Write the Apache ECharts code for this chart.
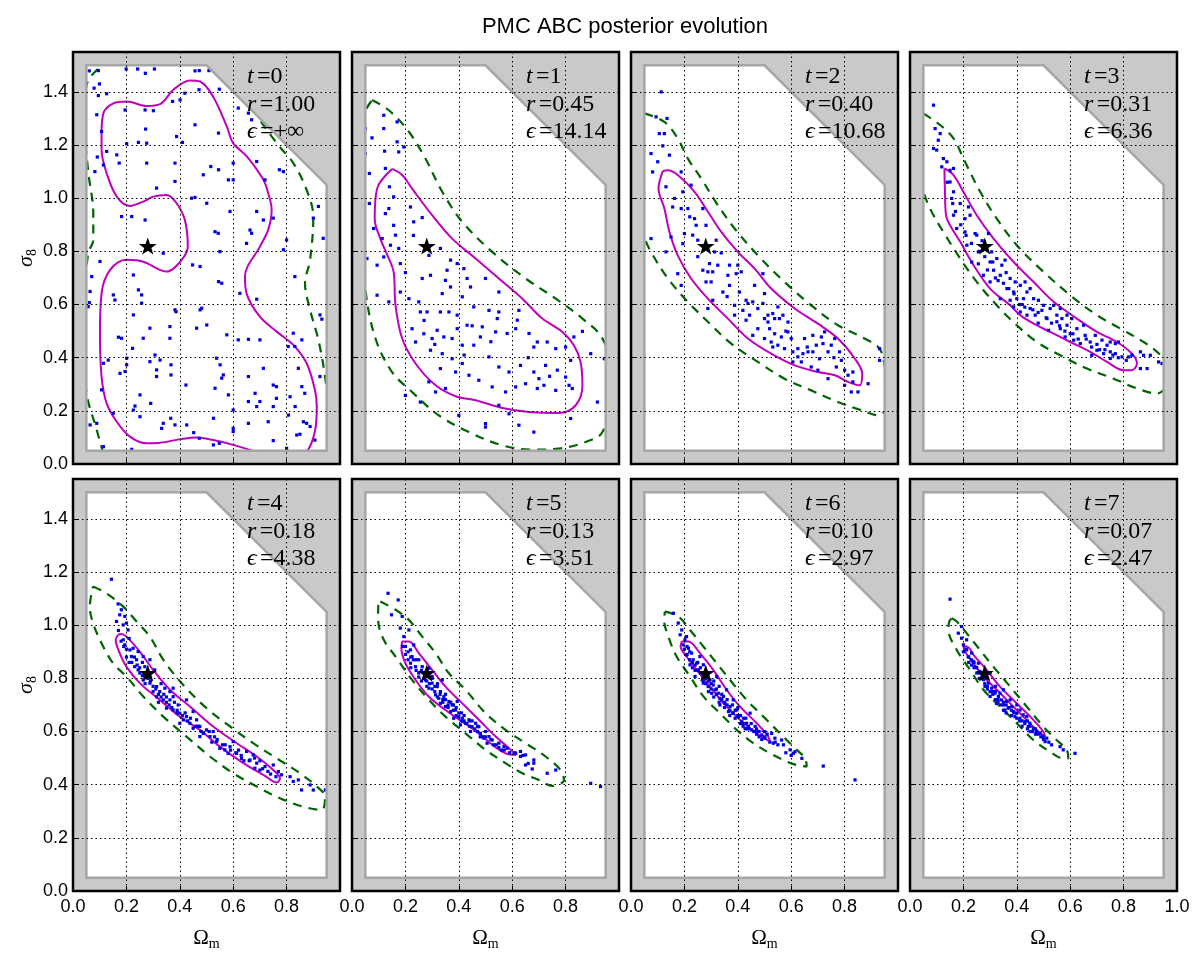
<!DOCTYPE html>
<html>
<head>
<meta charset="utf-8">
<script src="https://cdn.jsdelivr.net/npm/echarts@6/dist/echarts.min.js"></script>
<style>
  html, body { margin: 0; padding: 0; background: #fff; }
  #chart { width: 1200px; height: 962px; }
</style>
</head>
<body>
<div id="chart"></div>
<script>
// axis ranges and ticks
const xRange = [0, 1.0];
const yRange = [0, 1.55];
const tickStep = [0.2, 0.2];

// prior support (white area), gray outside
const priorBox = [[0.05, 0.05], [0.95, 0.05], [0.95, 1.05], [0.5, 1.5], [0.05, 1.5]];
const trueParams = [[0.28, 0.82]];

// per-iteration labels
const tLabels = ['0', '1', '2', '3', '4', '5', '6', '7'];
const rLabels = ['1.00', '0.45', '0.40', '0.31', '0.18', '0.13', '0.10', '0.07'];
const epsLabels = ['+\u221e', '14.14', '10.68', '6.36', '4.38', '3.51', '2.97', '2.47'];

// ---- t = 0 ----
const dots0 = [[0.061,1.479],[0.095,1.48],[0.199,1.486],[0.242,1.486],[0.271,1.47],[0.305,1.486],[0.457,1.479],[0.473,1.48],[0.509,1.48],
  [0.079,1.414],[0.099,1.43],[0.126,1.393],[0.095,1.386],[0.089,1.314],[0.195,1.332],[0.27,1.332],[0.301,1.329],[0.373,1.364],[0.401,1.37],
  [0.419,1.395],[0.472,1.408],[0.548,1.41],[0.563,1.46],[0.619,1.339],[0.657,1.32],[0.669,1.295],[0.107,1.251],[0.272,1.26],[0.276,1.207],
  [0.201,1.205],[0.245,1.21],[0.388,1.232],[0.41,1.21],[0.457,1.276],[0.545,1.245],[0.126,1.176],[0.091,1.155],[0.164,1.163],[0.173,1.132],
  [0.114,1.125],[0.082,1.1],[0.276,1.132],[0.382,1.132],[0.488,1.088],[0.516,1.119],[0.545,1.107],[0.6,1.132],[0.688,1.138],[0.773,1.107],
  [0.788,1.1],[0.382,1.063],[0.313,1.038],[0.444,1.0],[0.457,1.003],[0.501,0.981],[0.582,1.069],[0.6,1.069],[0.719,1.069],[0.588,0.95],
  [0.688,0.95],[0.919,0.969],[0.182,0.931],[0.22,0.931],[0.27,0.918],[0.9,0.925],[0.532,0.874],[0.544,0.868],[0.663,0.88],[0.669,0.868],
  [0.713,0.918],[0.75,0.925],[0.8,0.843],[0.937,0.849],[0.65,0.83],
  [0.101,0.762],[0.07,0.705],[0.064,0.649],[0.061,0.607],[0.057,0.592],[0.151,0.636],[0.157,0.617],[0.226,0.711],[0.245,0.655],[0.257,0.636],
  [0.257,0.605],[0.338,0.793],[0.448,0.749],[0.476,0.743],[0.55,0.799],[0.557,0.68],[0.545,0.686],[0.625,0.642],[0.688,0.62],[0.788,0.806],
  [0.831,0.705],[0.825,0.492],[0.806,0.442],[0.831,0.442],[0.857,0.467],[0.925,0.561],[0.932,0.545],[0.7,0.467],[0.657,0.469],[0.619,0.467],
  [0.576,0.486],[0.463,0.511],[0.501,0.523],[0.476,0.58],[0.482,0.586],[0.382,0.58],[0.386,0.573],[0.363,0.517],[0.363,0.473],[0.326,0.391],
  [0.313,0.354],[0.288,0.511],[0.226,0.561],[0.223,0.435],[0.263,0.473],[0.17,0.477],[0.182,0.473],[0.132,0.391],[0.114,0.379],[0.176,0.341],
  [0.195,0.348],[0.201,0.398],[0.201,0.373],[0.307,0.41],[0.313,0.329],[0.288,0.385],[0.367,0.373],[0.367,0.335],[0.423,0.297],[0.251,0.26],
  [0.291,0.228],[0.232,0.218],[0.226,0.203],[0.151,0.191],[0.251,0.178],[0.338,0.153],[0.382,0.147],[0.366,0.172],[0.332,0.134],[0.426,0.147],
  [0.452,0.118],[0.526,0.172],[0.538,0.398],[0.551,0.373],[0.563,0.335],[0.557,0.323],[0.532,0.285],[0.582,0.26],[0.6,0.203],[0.6,0.134],
  [0.6,0.122],[0.657,0.329],[0.657,0.235],[0.657,0.153],[0.682,0.266],[0.688,0.216],[0.7,0.235],[0.731,0.159],[0.75,0.216],[0.762,0.247],
  [0.75,0.297],[0.762,0.291],[0.713,0.36],[0.807,0.184],[0.813,0.253],[0.832,0.216],[0.844,0.36],[0.857,0.291],[0.868,0.266],[0.863,0.159],
  [0.838,0.109],[0.85,0.112],[0.875,0.153],[0.888,0.141],[0.906,0.09],[0.75,0.088],[0.8,0.059],[0.526,0.072],[0.548,0.078],[0.473,0.097],
  [0.22,0.055],[0.114,0.065],[0.107,0.279],[0.089,0.153],[0.064,0.147],[0.925,0.329]];
const inner0 = [[0.107,1.244],[0.114,1.32],[0.151,1.357],[0.201,1.364],[0.276,1.347],[0.326,1.354],[0.376,1.408],[0.438,1.443],[0.476,1.439],
  [0.525,1.382],[0.576,1.27],[0.6,1.207],[0.651,1.157],[0.713,1.069],[0.731,1.019],[0.744,0.956],[0.731,0.881],[0.7,0.818],[0.644,0.705],
  [0.65,0.642],[0.7,0.554],[0.763,0.498],[0.825,0.448],[0.875,0.379],[0.906,0.279],[0.913,0.216],[0.906,0.122],[0.875,0.046],[0.8,0.0],
  [0.682,0.046],[0.6,0.072],[0.525,0.09],[0.463,0.1],[0.401,0.093],[0.326,0.08],[0.276,0.078],[0.213,0.103],[0.164,0.159],[0.126,0.228],
  [0.107,0.329],[0.101,0.492],[0.107,0.642],[0.139,0.73],[0.201,0.768],[0.263,0.761],[0.351,0.724],[0.407,0.768],[0.43,0.818],[0.419,0.918],
  [0.388,0.981],[0.351,1.012],[0.301,1.006],[0.263,0.987],[0.213,0.971],[0.164,1.006],[0.126,1.094],[0.107,1.182],[0.107,1.244]];
const outer0 = [[0.13,-0.02],[0.089,0.128],[0.051,0.266],[0.042,0.45],[0.045,0.65],[0.057,0.793],[0.076,0.843],[0.076,0.944],[0.057,1.1],
  [0.042,1.3],[0.051,1.426],[0.101,1.495],[0.2,1.58],[0.5,1.58],[0.576,1.496],[0.675,1.332],[0.763,1.207],[0.825,1.132],[0.875,1.031],
  [0.9,0.931],[0.888,0.768],[0.869,0.68],[0.888,0.58],[0.919,0.467],[0.944,0.329],[0.97,0.1],[0.9,-0.02],[0.5,-0.05],[0.13,-0.02]];

// ---- t = 1 ----
const dots1 = [[0.05,1.262],[0.119,1.312],[0.169,1.287],[0.075,1.227],[0.119,1.262],[0.05,1.168],[0.122,1.177],[0.169,1.212],[0.194,1.193],
  [0.175,1.174],[0.065,1.093],[0.125,1.112],[0.14,1.043],[0.156,1.005],[0.065,0.98],[0.125,0.942],[0.138,0.961],[0.219,0.967],[0.263,0.927],
  [0.156,0.898],[0.163,0.861],[0.231,0.911],[0.081,0.886],[0.113,0.848],[0.144,0.823],[0.175,0.811],[0.056,0.773],[0.181,0.754],[0.094,0.748],
  [0.119,0.779],[0.263,0.698],[0.294,0.71],[0.288,0.785],[0.331,0.811],[0.369,0.767],[0.394,0.754],[0.356,0.729],[0.419,0.735],[0.35,0.691],
  [0.369,0.666],[0.444,0.666],[0.431,0.698],[0.5,0.698],[0.55,0.647],[0.413,0.629],[0.338,0.641],[0.25,0.61],[0.181,0.647],[0.138,0.61],
  [0.094,0.635],[0.213,0.622],[0.281,0.572],[0.256,0.572],[0.331,0.572],[0.363,0.572],[0.394,0.56],[0.456,0.591],[0.513,0.578],[0.55,0.572],
  [0.625,0.578],[0.619,0.541],[0.544,0.547],[0.488,0.516],[0.431,0.522],[0.394,0.509],[0.319,0.503],[0.344,0.478],[0.375,0.472],[0.3,0.472],
  [0.269,0.49],[0.225,0.509],[0.238,0.459],[0.294,0.428],[0.338,0.415],[0.413,0.447],[0.456,0.447],[0.481,0.478],[0.538,0.497],[0.581,0.491],
  [0.613,0.509],[0.663,0.491],[0.694,0.459],[0.731,0.459],[0.681,0.44],[0.763,0.434],[0.8,0.44],[0.831,0.478],[0.863,0.499],[0.894,0.415],
  [0.945,0.396],[0.375,0.396],[0.413,0.378],[0.513,0.403],[0.55,0.365],[0.588,0.346],[0.631,0.371],[0.681,0.346],[0.725,0.371],[0.769,0.353],
  [0.819,0.39],[0.8,0.327],[0.719,0.296],[0.694,0.284],[0.65,0.302],[0.613,0.29],[0.575,0.271],[0.525,0.29],[0.475,0.315],[0.438,0.334],
  [0.388,0.346],[0.331,0.359],[0.288,0.309],[0.313,0.271],[0.35,0.284],[0.2,0.258],[0.813,0.296],[0.825,0.284],[0.763,0.277],[0.55,0.221],
  [0.588,0.189],[0.625,0.146],[0.681,0.12],[0.5,0.152],[0.5,0.139],[0.4,0.183],[0.919,0.233],[0.819,0.171],[0.256,0.233],[0.7,0.321],
  [0.2,0.72],[0.23,0.86],[0.31,0.45],[0.45,0.52],[0.52,0.46],[0.66,0.4],[0.74,0.33],[0.42,0.41],[0.27,0.54]];
const inner1 = [[0.15,1.11],[0.094,1.036],[0.085,0.923],[0.106,0.848],[0.138,0.773],[0.156,0.723],[0.163,0.597],[0.188,0.472],[0.238,0.378],
  [0.313,0.296],[0.388,0.255],[0.463,0.24],[0.563,0.211],[0.663,0.196],[0.775,0.192],[0.838,0.221],[0.863,0.296],[0.856,0.384],[0.831,0.447],
  [0.788,0.497],[0.713,0.547],[0.638,0.622],[0.55,0.698],[0.463,0.773],[0.375,0.848],[0.3,0.936],[0.225,1.036],[0.188,1.087],[0.15,1.11]];
const outer1 = [[0.075,1.369],[0.138,1.331],[0.213,1.25],[0.275,1.149],[0.338,1.024],[0.413,0.911],[0.525,0.798],[0.65,0.698],[0.763,0.622],
  [0.863,0.547],[0.938,0.472],[0.99,0.3],[0.938,0.12],[0.875,0.083],[0.775,0.058],[0.675,0.054],[0.563,0.07],[0.438,0.12],[0.325,0.183],
  [0.225,0.271],[0.15,0.346],[0.088,0.472],[0.05,0.66],[0.03,1.0],[0.04,1.3],[0.075,1.369]];

// ---- t = 2 ----
const dots2 = [[0.113,1.4],[0.094,1.306],[0.135,1.3],[0.106,1.243],[0.125,1.243],[0.119,1.197],[0.144,1.162],[0.075,1.168],[0.1,1.137],
  [0.081,1.099],[0.188,1.099],[0.131,1.043],[0.163,0.999],[0.194,1.024],[0.225,1.049],[0.188,0.961],[0.156,0.967],[0.213,0.961],[0.238,0.923],
  [0.269,0.961],[0.244,0.898],[0.281,0.898],[0.2,0.867],[0.231,0.861],[0.15,0.854],[0.075,0.848],[0.131,0.798],[0.194,0.829],[0.25,0.842],
  [0.319,0.842],[0.313,0.798],[0.338,0.794],[0.294,0.754],[0.325,0.748],[0.288,0.723],[0.269,0.729],[0.306,0.723],[0.175,0.716],[0.281,0.685],
  [0.3,0.685],[0.188,0.672],[0.369,0.748],[0.4,0.748],[0.363,0.71],[0.394,0.716],[0.413,0.723],[0.463,0.672],[0.494,0.716],[0.5,0.641],
  [0.369,0.672],[0.406,0.647],[0.431,0.616],[0.456,0.61],[0.388,0.597],[0.306,0.616],[0.288,0.585],[0.419,0.578],[0.444,0.56],[0.431,0.541],
  [0.388,0.56],[0.456,0.484],[0.475,0.509],[0.5,0.547],[0.513,0.56],[0.531,0.566],[0.513,0.534],[0.519,0.509],[0.538,0.547],[0.55,0.591],
  [0.556,0.547],[0.569,0.56],[0.588,0.534],[0.538,0.49],[0.5,0.472],[0.525,0.459],[0.563,0.478],[0.588,0.497],[0.6,0.472],[0.55,0.447],
  [0.531,0.44],[0.575,0.434],[0.606,0.422],[0.625,0.434],[0.625,0.403],[0.644,0.415],[0.663,0.422],[0.65,0.472],[0.681,0.484],[0.713,0.478],
  [0.719,0.453],[0.694,0.447],[0.681,0.422],[0.706,0.396],[0.738,0.422],[0.75,0.447],[0.763,0.472],[0.725,0.497],[0.781,0.422],[0.788,0.39],
  [0.769,0.365],[0.8,0.353],[0.813,0.334],[0.831,0.346],[0.831,0.309],[0.8,0.296],[0.738,0.321],[0.7,0.353],[0.675,0.365],[0.638,0.384],
  [0.606,0.384],[0.825,0.271],[0.85,0.271],[0.888,0.302],[0.931,0.434],[0.931,0.39],[0.438,0.604],[0.475,0.585],[0.494,0.604],[0.344,0.647],
  [0.25,0.78],[0.22,0.93],[0.36,0.63],[0.58,0.5],[0.66,0.44],[0.76,0.4]];
const inner2 = [[0.119,1.102],[0.103,1.036],[0.125,0.961],[0.144,0.873],[0.175,0.785],[0.225,0.698],[0.288,0.622],[0.363,0.547],[0.438,0.472],
  [0.525,0.415],[0.613,0.371],[0.7,0.346],[0.763,0.334],[0.813,0.309],[0.856,0.296],[0.866,0.34],[0.838,0.397],[0.775,0.472],[0.7,0.528],
  [0.613,0.585],[0.525,0.66],[0.463,0.735],[0.4,0.798],[0.338,0.873],[0.288,0.949],[0.238,1.024],[0.175,1.087],[0.138,1.105],[0.119,1.102]];
const outer2 = [[0.05,1.319],[0.125,1.287],[0.175,1.225],[0.213,1.149],[0.263,1.074],[0.325,0.974],[0.388,0.886],[0.475,0.785],[0.575,0.685],
  [0.675,0.597],[0.775,0.522],[0.875,0.472],[0.931,0.434],[0.95,0.371],[0.975,0.25],[0.925,0.183],[0.863,0.202],[0.775,0.233],[0.675,0.277],
  [0.575,0.321],[0.475,0.384],[0.375,0.453],[0.288,0.535],[0.213,0.61],[0.138,0.698],[0.075,0.798],[0.05,0.854],[0.02,1.0],[0.02,1.25],
  [0.05,1.319]];

// ---- t = 3 ----
const dots3 = [[0.088,1.35],[0.094,1.262],[0.113,1.243],[0.106,1.218],[0.088,1.187],[0.1,1.181],[0.125,1.149],[0.138,1.137],[0.119,1.118],
  [0.15,1.105],[0.163,1.112],[0.15,1.061],[0.163,1.024],[0.156,0.999],[0.188,0.98],[0.219,0.967],[0.206,0.923],[0.225,0.936],[0.163,0.936],
  [0.175,0.886],[0.206,0.873],[0.244,0.867],[0.213,0.823],[0.256,0.798],[0.281,0.811],[0.306,0.798],[0.325,0.773],[0.356,0.767],[0.3,0.76],
  [0.231,0.76],[0.313,0.729],[0.344,0.748],[0.275,0.71],[0.3,0.685],[0.338,0.71],[0.375,0.698],[0.394,0.685],[0.413,0.672],[0.431,0.685],
  [0.45,0.66],[0.363,0.66],[0.388,0.647],[0.4,0.622],[0.375,0.616],[0.425,0.622],[0.438,0.647],[0.463,0.622],[0.338,0.622],[0.388,0.591],
  [0.413,0.572],[0.438,0.56],[0.45,0.585],[0.469,0.56],[0.494,0.578],[0.513,0.547],[0.5,0.597],[0.525,0.585],[0.55,0.56],[0.563,0.585],
  [0.569,0.547],[0.588,0.56],[0.606,0.547],[0.588,0.522],[0.55,0.535],[0.519,0.503],[0.563,0.509],[0.625,0.509],[0.65,0.522],[0.656,0.484],
  [0.581,0.478],[0.613,0.466],[0.638,0.453],[0.675,0.459],[0.694,0.484],[0.719,0.466],[0.738,0.447],[0.75,0.459],[0.769,0.453],[0.781,0.459],
  [0.7,0.428],[0.725,0.415],[0.75,0.422],[0.769,0.415],[0.794,0.403],[0.75,0.397],[0.819,0.403],[0.831,0.409],[0.863,0.422],[0.875,0.409],
  [0.9,0.409],[0.931,0.384],[0.944,0.378],[0.888,0.359],[0.863,0.359],[0.681,0.409],[0.481,0.616],[0.538,0.597],[0.25,0.861],[0.294,0.867],
  [0.256,0.753],[0.27,0.84],[0.32,0.7],[0.36,0.72],[0.42,0.6],[0.48,0.53],[0.6,0.49],[0.7,0.45],
  [0.14,1.06],[0.16,0.98],[0.17,0.95],[0.19,0.9],[0.21,0.86],[0.23,0.83],[0.26,0.8],[0.28,0.78],[0.29,0.73],[0.31,0.76],[0.33,0.69],
  [0.35,0.68],[0.37,0.66],[0.39,0.64],[0.41,0.6],[0.43,0.59],[0.46,0.58],[0.48,0.57],[0.51,0.55],[0.53,0.53],[0.56,0.52],[0.58,0.5],
  [0.61,0.49],[0.63,0.47],[0.66,0.47],[0.68,0.44],[0.71,0.43],[0.73,0.43],[0.76,0.41],[0.78,0.4],[0.81,0.39]];
const inner3 = [[0.129,1.112],[0.131,1.024],[0.135,0.936],[0.15,0.898],[0.188,0.836],[0.238,0.748],[0.3,0.66],[0.375,0.597],[0.413,0.56],
  [0.463,0.528],[0.525,0.497],[0.6,0.459],[0.675,0.422],[0.738,0.384],[0.8,0.353],[0.831,0.353],[0.85,0.378],[0.831,0.415],[0.775,0.459],
  [0.7,0.497],[0.625,0.547],[0.538,0.61],[0.463,0.685],[0.388,0.76],[0.313,0.848],[0.25,0.936],[0.2,1.024],[0.163,1.087],[0.129,1.112]];
const outer3 = [[0.05,1.319],[0.113,1.275],[0.163,1.225],[0.206,1.137],[0.263,1.024],[0.325,0.923],[0.4,0.823],[0.5,0.723],[0.6,0.635],
  [0.7,0.56],[0.788,0.509],[0.875,0.459],[0.938,0.409],[0.98,0.34],[0.925,0.265],[0.85,0.284],[0.763,0.321],[0.663,0.359],[0.563,0.409],
  [0.475,0.459],[0.4,0.522],[0.325,0.597],[0.25,0.685],[0.188,0.773],[0.125,0.873],[0.075,0.961],[0.048,1.036],[0.02,1.2],[0.05,1.319]];

// ---- t = 4 ----
const dots4 = [[0.144,1.173],[0.169,1.08],[0.181,1.058],[0.175,1.039],[0.194,1.033],[0.163,1.014],[0.188,1.001],[0.206,0.982],[0.2,1.008],
  [0.188,0.945],[0.194,0.926],[0.213,0.907],[0.225,0.913],[0.244,0.901],[0.219,0.882],[0.238,0.87],[0.263,0.882],[0.288,0.87],[0.231,0.844],
  [0.244,0.832],[0.269,0.844],[0.306,0.832],[0.263,0.794],[0.288,0.782],[0.313,0.769],[0.3,0.75],[0.325,0.75],[0.344,0.763],[0.363,0.75],
  [0.313,0.731],[0.338,0.719],[0.363,0.719],[0.375,0.731],[0.394,0.7],[0.375,0.681],[0.35,0.688],[0.4,0.669],[0.413,0.644],[0.425,0.656],
  [0.438,0.631],[0.4,0.631],[0.45,0.675],[0.463,0.644],[0.45,0.612],[0.475,0.619],[0.488,0.593],[0.5,0.606],[0.513,0.581],[0.525,0.6],
  [0.475,0.581],[0.538,0.562],[0.55,0.537],[0.569,0.531],[0.588,0.543],[0.6,0.562],[0.581,0.518],[0.613,0.518],[0.631,0.499],[0.65,0.525],
  [0.675,0.512],[0.663,0.493],[0.688,0.481],[0.681,0.462],[0.7,0.455],[0.719,0.468],[0.75,0.474],[0.769,0.449],[0.781,0.437],[0.813,0.43],
  [0.825,0.412],[0.844,0.418],[0.856,0.38],[0.888,0.399],[0.9,0.38],[0.945,0.38],[0.375,0.763],[0.425,0.719],[0.275,0.819],
  [0.21,0.95],[0.23,0.88],[0.26,0.86],[0.28,0.8],[0.33,0.78],[0.35,0.73],[0.39,0.68],[0.42,0.67],[0.46,0.62],[0.52,0.56],[0.56,0.55],
  [0.62,0.53],[0.64,0.49],[0.7,0.49],[0.73,0.45],[0.2,0.91],[0.25,0.84],[0.32,0.71],
  [0.17,0.98],[0.18,0.94],[0.19,0.92],[0.2,0.88],[0.21,0.86],[0.22,0.86],[0.24,0.85],[0.25,0.82],[0.26,0.81],[0.27,0.78],[0.29,0.79],
  [0.3,0.77],[0.31,0.76],[0.32,0.74],[0.33,0.73],[0.34,0.74],[0.35,0.71],[0.36,0.7],[0.37,0.69],[0.38,0.71],[0.39,0.67],[0.41,0.66],
  [0.43,0.64],[0.44,0.65],[0.47,0.62],[0.48,0.6],[0.51,0.6],[0.53,0.58],[0.54,0.57],[0.57,0.55],[0.59,0.53],[0.61,0.52],[0.63,0.51],
  [0.66,0.49],[0.68,0.5],[0.71,0.46],[0.74,0.44],[0.76,0.43]];
const inner4 = [[0.169,0.964],[0.16,0.945],[0.175,0.895],[0.2,0.844],[0.25,0.782],[0.325,0.719],[0.4,0.656],[0.475,0.606],[0.55,0.543],
  [0.638,0.481],[0.713,0.437],[0.763,0.408],[0.775,0.424],[0.75,0.455],[0.688,0.506],[0.613,0.556],[0.525,0.619],[0.438,0.694],[0.363,0.757],
  [0.3,0.832],[0.25,0.901],[0.2,0.957],[0.181,0.967],[0.169,0.964]];
const outer4 = [[0.075,1.146],[0.125,1.12],[0.188,1.07],[0.238,1.014],[0.288,0.957],[0.338,0.87],[0.413,0.775],[0.5,0.688],[0.588,0.619],
  [0.675,0.556],[0.763,0.499],[0.85,0.443],[0.913,0.393],[0.944,0.355],[0.931,0.305],[0.863,0.317],[0.775,0.349],[0.688,0.393],[0.6,0.443],
  [0.513,0.506],[0.425,0.581],[0.338,0.656],[0.263,0.732],[0.2,0.807],[0.15,0.857],[0.113,0.92],[0.075,1.008],[0.063,1.07],[0.075,1.146]];

// ---- t = 5 ----
const dots5 = [[0.135,1.12],[0.173,1.095],[0.148,1.039],[0.188,1.033],[0.181,0.989],[0.213,0.982],[0.194,0.957],[0.2,0.92],[0.219,0.907],
  [0.231,0.926],[0.225,0.882],[0.25,0.87],[0.238,0.844],[0.263,0.844],[0.288,0.838],[0.219,0.857],[0.25,0.805],[0.275,0.794],[0.3,0.782],
  [0.319,0.769],[0.288,0.763],[0.313,0.738],[0.331,0.75],[0.344,0.731],[0.325,0.725],[0.363,0.713],[0.35,0.694],[0.375,0.7],[0.388,0.681],
  [0.369,0.675],[0.4,0.656],[0.381,0.65],[0.413,0.65],[0.425,0.631],[0.438,0.644],[0.406,0.625],[0.45,0.618],[0.463,0.631],[0.475,0.618],
  [0.444,0.6],[0.481,0.593],[0.5,0.6],[0.513,0.581],[0.494,0.575],[0.525,0.568],[0.506,0.556],[0.55,0.556],[0.569,0.543],[0.581,0.537],
  [0.613,0.518],[0.631,0.525],[0.65,0.512],[0.631,0.506],[0.681,0.493],[0.681,0.481],[0.65,0.474],[0.675,0.459],[0.731,0.443],[0.763,0.455],
  [0.894,0.405],[0.931,0.393],[0.338,0.794],[0.3,0.807],[0.331,0.706],[0.394,0.713],
  [0.21,0.9],[0.24,0.87],[0.26,0.79],[0.28,0.77],[0.31,0.75],[0.34,0.71],[0.36,0.69],[0.39,0.66],[0.42,0.64],[0.44,0.62],[0.47,0.6],
  [0.49,0.58],[0.53,0.55],[0.56,0.53],[0.3,0.8],[0.32,0.78],[0.35,0.74],[0.38,0.7],[0.41,0.67],[0.45,0.64],[0.23,0.87],[0.27,0.82],
  [0.19,0.92],[0.2,0.89],[0.21,0.87],[0.22,0.88],[0.22,0.84],[0.24,0.83],[0.25,0.82],[0.26,0.83],[0.27,0.8],[0.28,0.79],[0.29,0.78],
  [0.3,0.76],[0.31,0.77],[0.32,0.73],[0.33,0.74],[0.34,0.72],[0.35,0.72],[0.36,0.7],[0.37,0.71],[0.38,0.68],[0.39,0.69],[0.4,0.67],
  [0.41,0.64],[0.42,0.66],[0.43,0.63],[0.44,0.64],[0.46,0.61],[0.47,0.62],[0.48,0.58],[0.5,0.58],[0.52,0.57],[0.54,0.55],[0.55,0.54],
  [0.57,0.53],[0.59,0.52],[0.61,0.52],[0.64,0.51],[0.66,0.48]];
const inner5 = [[0.188,0.939],[0.185,0.913],[0.2,0.857],[0.238,0.794],[0.288,0.731],[0.35,0.681],[0.413,0.637],[0.475,0.593],[0.525,0.55],
  [0.575,0.518],[0.613,0.512],[0.588,0.537],[0.538,0.581],[0.475,0.644],[0.413,0.706],[0.35,0.769],[0.3,0.832],[0.25,0.895],[0.213,0.939],
  [0.188,0.939]];
const outer5 = [[0.106,1.089],[0.163,1.058],[0.213,1.02],[0.263,0.957],[0.313,0.895],[0.363,0.819],[0.425,0.757],[0.5,0.669],[0.575,0.606],
  [0.65,0.556],[0.725,0.506],[0.781,0.455],[0.794,0.418],[0.75,0.395],[0.7,0.418],[0.638,0.443],[0.575,0.481],[0.5,0.531],[0.425,0.593],
  [0.35,0.656],[0.288,0.719],[0.225,0.794],[0.163,0.882],[0.119,0.945],[0.098,1.02],[0.098,1.07],[0.106,1.089]];

// ---- t = 6 ----
const dots6 = [[0.159,1.045],[0.177,1.008],[0.19,0.982],[0.184,0.964],[0.202,0.945],[0.196,0.926],[0.215,0.913],[0.227,0.895],[0.208,0.888],
  [0.233,0.87],[0.246,0.857],[0.221,0.851],[0.252,0.832],[0.24,0.807],[0.271,0.851],[0.283,0.813],[0.296,0.794],[0.271,0.782],[0.289,0.769],
  [0.308,0.775],[0.315,0.757],[0.302,0.744],[0.327,0.744],[0.333,0.725],[0.346,0.732],[0.352,0.706],[0.333,0.7],[0.371,0.694],[0.365,0.675],
  [0.383,0.669],[0.396,0.681],[0.402,0.656],[0.421,0.65],[0.415,0.637],[0.433,0.631],[0.44,0.619],[0.452,0.606],[0.427,0.612],[0.465,0.619],
  [0.471,0.6],[0.49,0.587],[0.502,0.575],[0.527,0.593],[0.539,0.575],[0.533,0.556],[0.564,0.568],[0.571,0.55],[0.596,0.531],[0.608,0.518],
  [0.614,0.524],[0.64,0.499],[0.72,0.47],[0.839,0.418],[0.258,0.882],[0.321,0.807],[0.358,0.757],[0.383,0.719],[0.446,0.669],[0.208,0.957],
  [0.23,0.84],[0.26,0.82],[0.28,0.8],[0.31,0.79],[0.32,0.76],[0.34,0.74],[0.36,0.72],[0.38,0.7],[0.39,0.68],[0.41,0.66],[0.43,0.65],
  [0.45,0.63],[0.47,0.61],[0.48,0.6],[0.51,0.59],[0.3,0.78],[0.33,0.77],[0.35,0.71],[0.4,0.69],[0.42,0.63],[0.5,0.6],[0.22,0.9],[0.25,0.86],
  [0.2,0.91],[0.21,0.89],[0.21,0.92],[0.22,0.87],[0.23,0.86],[0.24,0.85],[0.24,0.83],[0.25,0.83],[0.26,0.84],[0.27,0.81],[0.27,0.79],
  [0.28,0.78],[0.29,0.79],[0.29,0.75],[0.3,0.76],[0.31,0.73],[0.32,0.74],[0.33,0.71],[0.34,0.72],[0.35,0.69],[0.36,0.7],[0.37,0.68],
  [0.37,0.66],[0.38,0.67],[0.39,0.65],[0.4,0.66],[0.41,0.63],[0.42,0.62],[0.43,0.61],[0.44,0.61],[0.46,0.6],[0.47,0.59],[0.48,0.58],
  [0.49,0.57],[0.5,0.58],[0.52,0.56],[0.54,0.56],[0.55,0.55],[0.58,0.52],[0.6,0.51]];
const inner6 = [[0.19,0.939],[0.186,0.92],[0.208,0.882],[0.246,0.832],[0.296,0.769],[0.346,0.706],[0.408,0.644],[0.471,0.593],[0.521,0.562],
  [0.514,0.581],[0.471,0.631],[0.408,0.694],[0.358,0.757],[0.308,0.832],[0.258,0.895],[0.215,0.939],[0.19,0.939]];
const outer6 = [[0.127,1.051],[0.177,1.033],[0.221,0.982],[0.271,0.92],[0.321,0.857],[0.371,0.794],[0.433,0.719],[0.496,0.656],[0.558,0.593],
  [0.608,0.543],[0.652,0.499],[0.658,0.468],[0.62,0.474],[0.583,0.487],[0.521,0.518],[0.458,0.556],[0.396,0.606],[0.333,0.669],[0.271,0.732],
  [0.221,0.807],[0.171,0.882],[0.14,0.957],[0.124,1.02],[0.127,1.051]];

// ---- t = 7 ----
const dots7 = [[0.15,1.098],[0.181,0.97],[0.193,0.951],[0.2,0.926],[0.212,0.907],[0.218,0.882],[0.231,0.895],[0.237,0.864],[0.243,0.844],
  [0.256,0.857],[0.262,0.826],[0.275,0.795],[0.287,0.801],[0.293,0.782],[0.281,0.769],[0.306,0.763],[0.318,0.744],[0.3,0.732],[0.331,0.732],
  [0.343,0.719],[0.324,0.706],[0.35,0.7],[0.362,0.713],[0.368,0.688],[0.381,0.694],[0.356,0.681],[0.387,0.675],[0.4,0.669],[0.393,0.656],
  [0.412,0.65],[0.424,0.663],[0.431,0.637],[0.449,0.631],[0.443,0.619],[0.462,0.612],[0.474,0.6],[0.487,0.593],[0.499,0.581],[0.512,0.575],
  [0.506,0.562],[0.562,0.543],[0.574,0.531],[0.618,0.518],[0.212,0.945],[0.275,0.82],[0.337,0.744],[0.375,0.719],[0.412,0.681],[0.437,0.656],
  [0.35,0.757],[0.3,0.82],[0.193,0.995],[0.25,0.84],[0.27,0.81],[0.29,0.76],[0.31,0.75],[0.33,0.72],[0.36,0.7],[0.38,0.68],[0.42,0.64],
  [0.45,0.62],[0.47,0.61],[0.24,0.86],[0.26,0.8],[0.32,0.77],[0.4,0.7],[0.44,0.64],[0.23,0.87],
  [0.2,0.9],[0.21,0.91],[0.22,0.88],[0.22,0.86],[0.23,0.85],[0.24,0.84],[0.25,0.82],[0.26,0.82],[0.27,0.8],[0.28,0.78],[0.28,0.8],
  [0.29,0.77],[0.3,0.75],[0.31,0.74],[0.32,0.75],[0.32,0.72],[0.33,0.71],[0.34,0.7],[0.35,0.71],[0.35,0.68],[0.36,0.67],[0.37,0.69],
  [0.38,0.66],[0.39,0.67],[0.4,0.65],[0.41,0.64],[0.42,0.62],[0.43,0.63],[0.44,0.61],[0.45,0.6],[0.46,0.6],[0.47,0.59],[0.48,0.59],
  [0.49,0.58],[0.5,0.57],[0.52,0.56],[0.53,0.55]];
const inner7 = [[0.2,0.92],[0.206,0.901],[0.237,0.857],[0.275,0.807],[0.325,0.757],[0.375,0.706],[0.424,0.656],[0.474,0.606],[0.506,0.581],
  [0.499,0.6],[0.462,0.644],[0.4,0.706],[0.337,0.769],[0.287,0.832],[0.243,0.882],[0.212,0.92],[0.2,0.92]];
const outer7 = [[0.156,1.026],[0.175,1.014],[0.212,0.97],[0.262,0.907],[0.312,0.844],[0.375,0.769],[0.437,0.694],[0.499,0.619],[0.549,0.568],
  [0.587,0.531],[0.593,0.499],[0.574,0.499],[0.524,0.524],[0.462,0.568],[0.4,0.631],[0.337,0.694],[0.275,0.757],[0.225,0.832],[0.175,0.907],
  [0.144,0.982],[0.147,1.014],[0.156,1.026]];

const allDots = [dots0, dots1, dots2, dots3, dots4, dots5, dots6, dots7];
const allInner = [inner0, inner1, inner2, inner3, inner4, inner5, inner6, inner7];
const allOuter = [outer0, outer1, outer2, outer3, outer4, outer5, outer6, outer7];

// layout of the 2x4 panels (pixels)
const colLeft = [73, 352, 631, 910];
const rowTop = [52, 479];
const panelW = 267;
const panelH = 412;

const starPath = 'path://M0,-10L2.35,-3.24L9.51,-3.09L3.8,1.24L5.88,8.09L0,4L-5.88,8.09L-3.8,1.24L-9.51,-3.09L-2.35,-3.24Z';
const serif = '"Liberation Serif", "DejaVu Serif", serif';
const sans = '"Liberation Sans", Arial, sans-serif';

const grids = [], xAxes = [], yAxes = [], series = [], graphics = [];

for (let i = 0; i < 8; i++) {
  const row = Math.floor(i / 4), col = i % 4;
  grids.push({
    left: colLeft[col], top: rowTop[row], width: panelW, height: panelH,
    show: true, borderColor: '#000', borderWidth: 2.5, backgroundColor: 'transparent', z: 6
  });
  xAxes.push({
    type: 'value', gridIndex: i, min: xRange[0], max: xRange[1], interval: tickStep[0], z: 5,
    axisLine: { show: false },
    axisTick: { show: true, inside: true, length: 5, lineStyle: { color: '#000', width: 1 } },
    axisLabel: {
      show: row === 1, margin: 7, color: '#000', fontSize: 18, fontFamily: sans,
      showMaxLabel: col === 3, formatter: v => v.toFixed(1)
    },
    splitLine: { show: true, lineStyle: { color: '#000', width: 1, type: [1.5, 3] } },
    name: row === 1 ? '{o|\u03a9}{m|m}' : '',
    nameLocation: 'middle', nameGap: 34,
    nameTextStyle: {
      rich: {
        o: { fontFamily: serif, fontSize: 21, color: '#000', lineHeight: 26, verticalAlign: 'middle' },
        m: { fontFamily: serif, fontSize: 14, color: '#000', lineHeight: 26, verticalAlign: 'bottom', padding: [12, 0, 0, 0] }
      }
    }
  });
  yAxes.push({
    type: 'value', gridIndex: i, min: yRange[0], max: yRange[1], interval: tickStep[1], z: 5,
    axisLine: { show: false },
    axisTick: { show: true, inside: true, length: 5, lineStyle: { color: '#000', width: 1 } },
    axisLabel: {
      show: col === 0, margin: 5, color: '#000', fontSize: 18, fontFamily: sans,
      showMaxLabel: false, formatter: v => v.toFixed(1)
    },
    splitLine: { show: true, lineStyle: { color: '#000', width: 1, type: [1.5, 3] } },
    name: col === 0 ? '{s|\u03c3}{b|8}' : '',
    nameLocation: 'middle', nameGap: 34,
    nameTextStyle: {
      rich: {
        s: { fontFamily: serif, fontStyle: 'italic', fontSize: 22, color: '#000', lineHeight: 26 },
        b: { fontFamily: serif, fontSize: 14, color: '#000', lineHeight: 26, padding: [12, 0, 0, 0] }
      }
    }
  });

  series.push({
    type: 'scatter', xAxisIndex: i, yAxisIndex: i, data: allDots[i],
    symbol: 'rect', symbolSize: 3.2, itemStyle: { color: '#0000e6', opacity: 1 }, z: 2, silent: true
  });
  series.push({
    type: 'line', xAxisIndex: i, yAxisIndex: i, data: allInner[i], smooth: 0.35,
    showSymbol: false, clip: true, lineStyle: { color: '#bf00bf', width: 2 }, z: 2, silent: true
  });
  series.push({
    type: 'line', xAxisIndex: i, yAxisIndex: i, data: allOuter[i], smooth: 0.35,
    showSymbol: false, clip: true, lineStyle: { color: '#006400', width: 2.2, type: [9, 7] }, z: 2, silent: true
  });
  // gray area outside the prior box
  series.push({
    type: 'custom', xAxisIndex: i, yAxisIndex: i, data: [[0, 0]], z: 3, silent: true, clip: false,
    renderItem: function (params, api) {
      const tl = api.coord([xRange[0], yRange[1]]);
      const br = api.coord([xRange[1], yRange[0]]);
      const inner = priorBox.map(p => api.coord(p));
      let d = 'M' + tl[0] + ',' + tl[1] + 'L' + br[0] + ',' + tl[1] + 'L' + br[0] + ',' + br[1] + 'L' + tl[0] + ',' + br[1] + 'Z';
      d += 'M' + inner.map(p => p[0] + ',' + p[1]).join('L') + 'Z';
      return {
        type: 'group',
        children: [
          { type: 'path', shape: { pathData: d }, style: { fill: '#c9c9c9', stroke: 'none' } },
          { type: 'polygon', shape: { points: inner }, style: { fill: 'none', stroke: '#a6a6a6', lineWidth: 2.5 } }
        ]
      };
    }
  });
  series.push({
    type: 'scatter', xAxisIndex: i, yAxisIndex: i, data: trueParams,
    symbol: starPath, symbolSize: 18, symbolKeepAspect: true, itemStyle: { color: '#000', opacity: 1 }, z: 7, silent: true
  });

  // annotation block in the top right
  const tx = colLeft[col] + 174;
  const ty = rowTop[row];
  const lines = [
    '{i|t} {n|=' + tLabels[i] + '}',
    '{i|r} {n|=' + rLabels[i] + '}',
    '{i|\u03f5} {n|=' + epsLabels[i] + '}'
  ];
  lines.forEach((txt, k) => {
    graphics.push({
      type: 'text', x: tx, y: ty + 25 + k * 27.5, z: 10,
      style: {
        text: txt, verticalAlign: 'middle',
        rich: {
          i: { fontFamily: serif, fontStyle: 'italic', fontSize: 24, fill: '#000' },
          n: { fontFamily: serif, fontSize: 24, fill: '#000' }
        }
      }
    });
  });
}

graphics.push({
  type: 'text', x: 625, y: 27, z: 10,
  style: { text: 'PMC ABC posterior evolution', align: 'center', verticalAlign: 'middle', fontFamily: sans, fontSize: 22, fill: '#000' }
});

const chart = echarts.init(document.getElementById('chart'), null, { renderer: 'canvas' });
chart.setOption({
  backgroundColor: '#fff',
  animation: false,
  grid: grids,
  xAxis: xAxes,
  yAxis: yAxes,
  series: series,
  graphic: graphics
});
</script>
</body>
</html>
